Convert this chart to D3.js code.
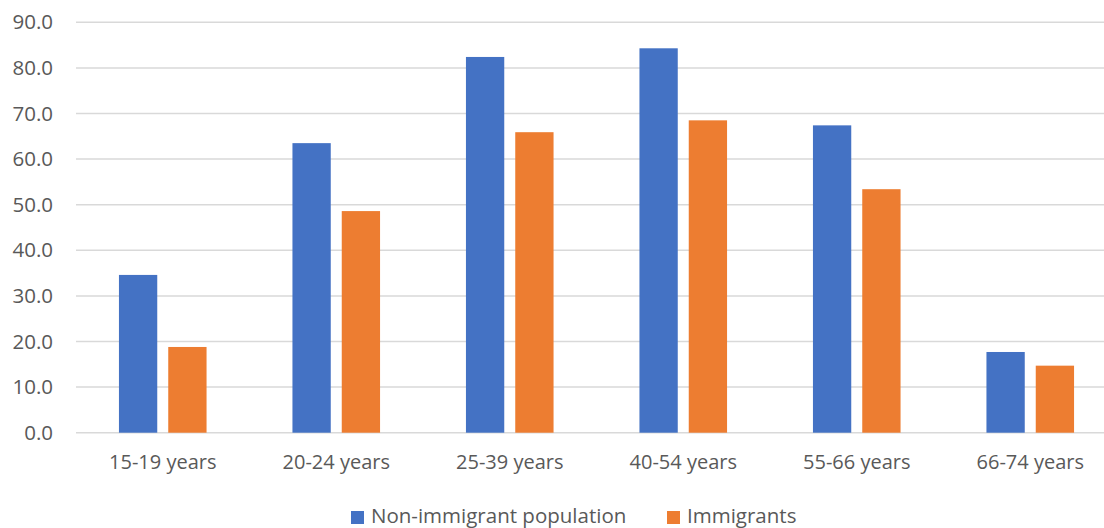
<!DOCTYPE html>
<html>
<head>
<meta charset="utf-8">
<script src="https://cdn.jsdelivr.net/npm/d3@7"></script>
<style>
  html, body { margin: 0; padding: 0; background: #fff; }
  svg text { font-family: "Open Sans", "Liberation Sans", sans-serif; fill: #595959; }
</style>
</head>
<body>
<svg id="chart" width="1104" height="528"></svg>
<script>
// Employment rate by age group (%)
const categories = ["15-19 years", "20-24 years", "25-39 years", "40-54 years", "55-66 years", "66-74 years"];
const seriesNames = ["Non-immigrant population", "Immigrants"];
const nonImmigrant = [34.6, 63.5, 82.4, 84.3, 67.4, 17.7];
const immigrants = [18.8, 48.6, 65.9, 68.5, 53.4, 14.7];
const yTicks = [0, 10, 20, 30, 40, 50, 60, 70, 80, 90];
const colors = ["#4472C4", "#ED7D31"];

const svg = d3.select("#chart");
const plot = { left: 76, right: 1117, top: 22.3, bottom: 432.7 };

const x = d3.scaleBand().domain(categories).range([plot.left, plot.right]);
const y = d3.scaleLinear().domain([0, 90]).range([plot.bottom, plot.top]);

// gridlines
svg.append("g")
  .selectAll("line")
  .data(yTicks)
  .join("line")
  .attr("x1", plot.left)
  .attr("x2", plot.right)
  .attr("y1", d => y(d))
  .attr("y2", d => y(d))
  .attr("stroke", "#d9d9d9")
  .attr("stroke-width", 1.5);

// y axis labels
const yAxis = d3.axisLeft(y).tickValues(yTicks).tickFormat(d3.format(".1f")).tickSize(0).tickPadding(23);
const yg = svg.append("g").attr("transform", `translate(${plot.left},0)`).call(yAxis);
yg.select(".domain").remove();
yg.selectAll("text").attr("font-size", 20.5).attr("font-family", null);

// bars
const barW = 38.3, gap = 11;
const data = categories.map((c, i) => ({ c, vals: [nonImmigrant[i], immigrants[i]] }));
const groups = svg.append("g").selectAll("g").data(data).join("g");
groups.selectAll("rect")
  .data(d => d.vals.map((v, j) => ({ c: d.c, v, j })))
  .join("rect")
  .attr("x", d => {
    const cx = x(d.c) + x.bandwidth() / 2;
    return d.j === 0 ? cx - gap / 2 - barW : cx + gap / 2;
  })
  .attr("y", d => y(d.v))
  .attr("width", barW)
  .attr("height", d => y(0) - y(d.v))
  .attr("fill", d => colors[d.j]);

// category axis
const xAxis = d3.axisBottom(x).tickSize(0).tickPadding(22);
const xg = svg.append("g").attr("transform", `translate(0,${plot.bottom})`).call(xAxis);
xg.select(".domain").remove();
xg.selectAll("text").attr("font-size", 20).attr("font-family", null);

// legend
const legend = svg.append("g");
const legendItems = [
  { name: seriesNames[0], color: colors[0], x: 351 },
  { name: seriesNames[1], color: colors[1], x: 667 }
];
legendItems.forEach(it => {
  legend.append("rect").attr("x", it.x).attr("y", 511).attr("width", 13).attr("height", 13).attr("fill", it.color);
  legend.append("text").attr("x", it.x + 20).attr("y", 523).attr("font-size", 20.5).text(it.name);
});
</script>
</body>
</html>
